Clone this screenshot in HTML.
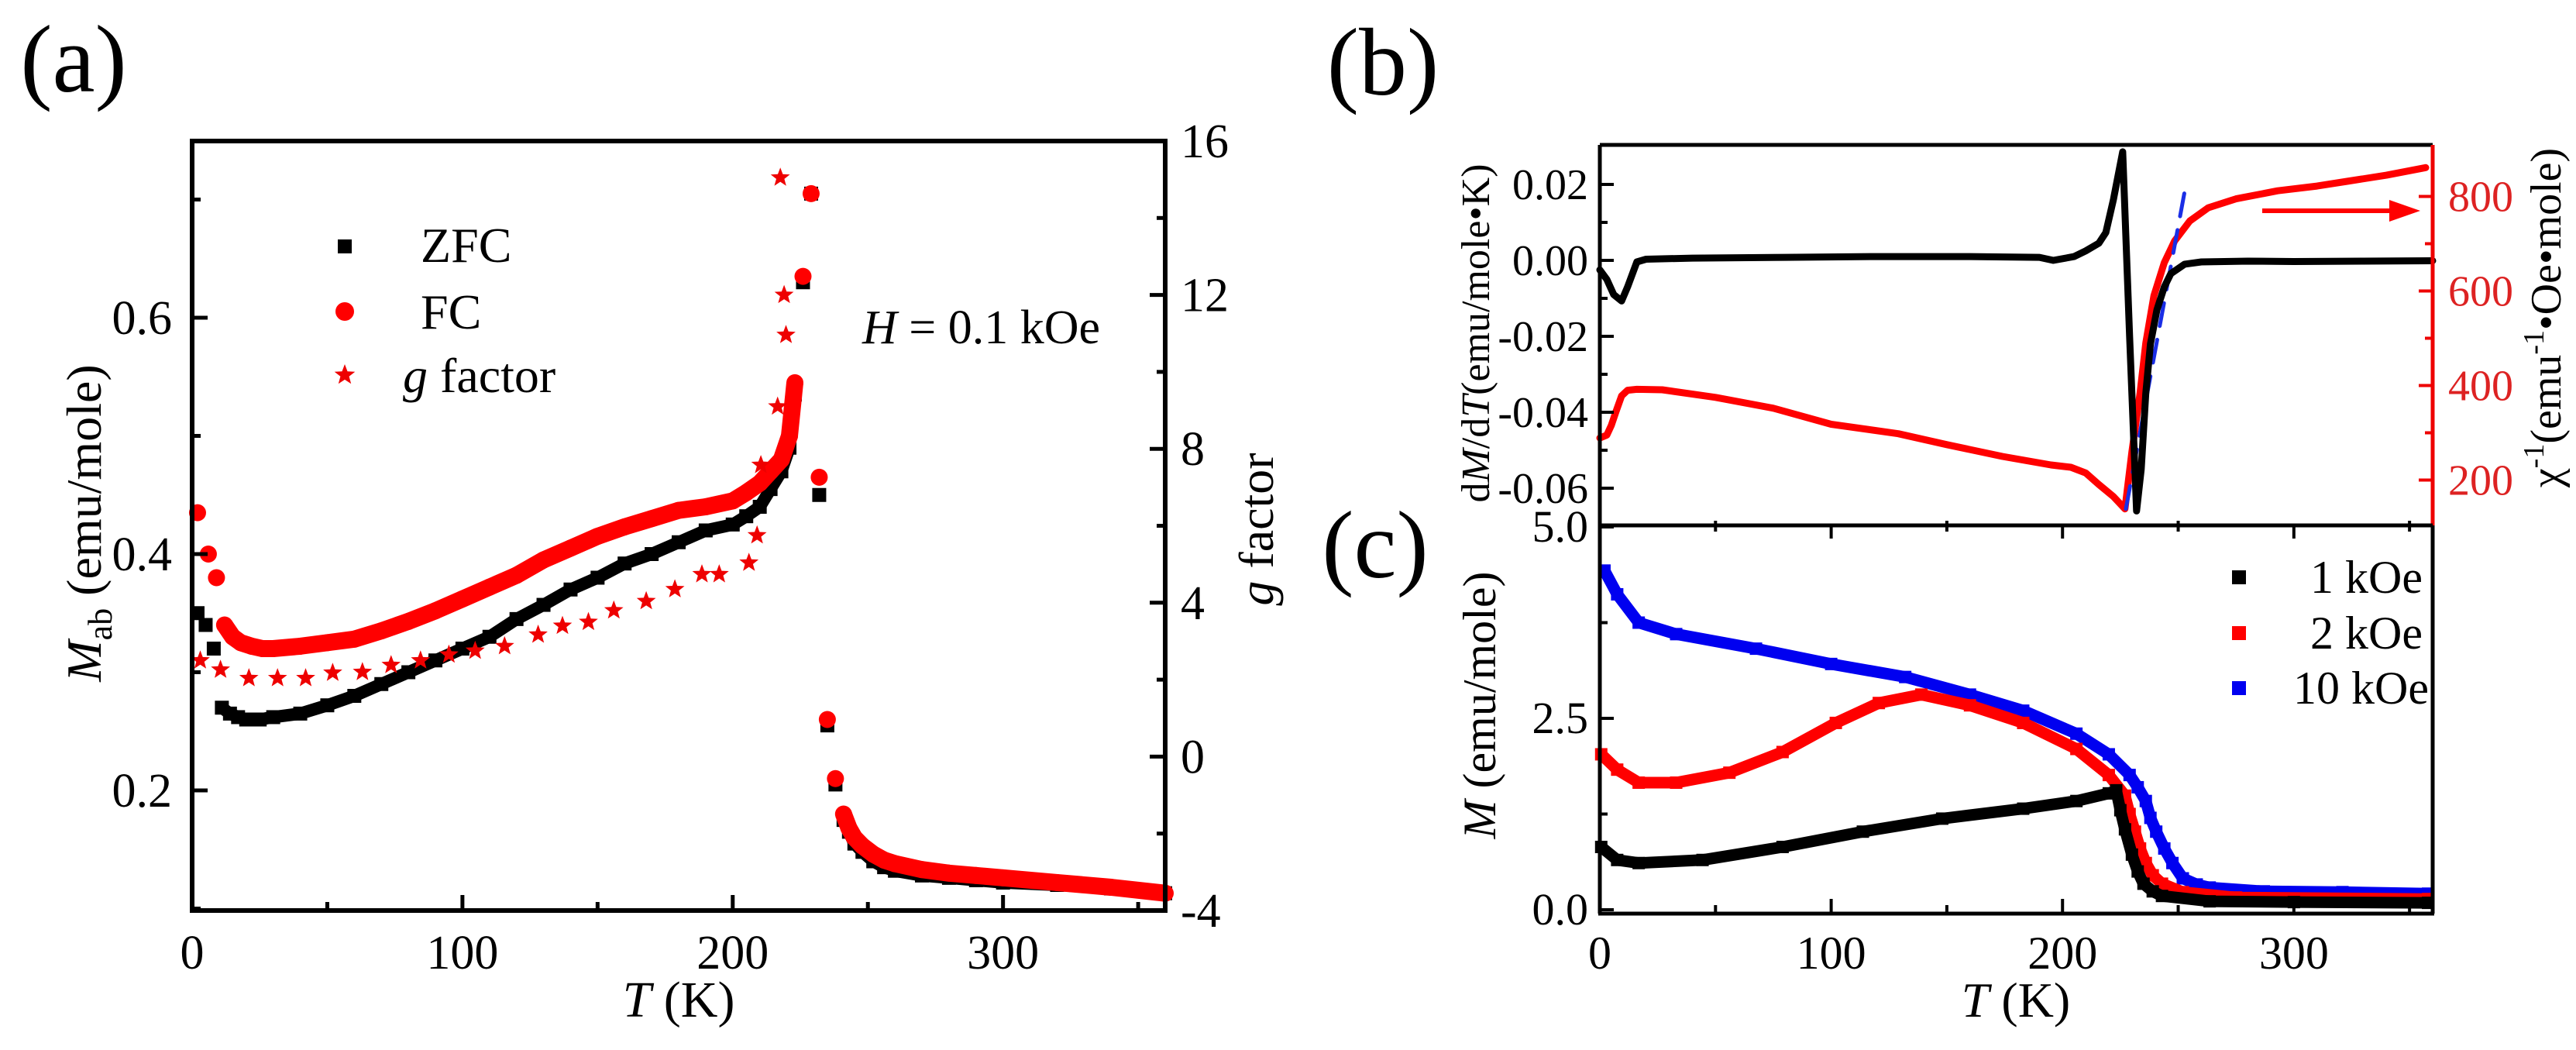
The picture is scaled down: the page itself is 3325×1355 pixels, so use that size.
<!DOCTYPE html>
<html><head><meta charset="utf-8">
<style>
html,body{margin:0;padding:0;background:#fff;}
svg{display:block;}
svg text{font-family:"Liberation Serif","DejaVu Serif",serif;}
</style></head>
<body>
<svg id="fig" xmlns="http://www.w3.org/2000/svg" width="3325" height="1355" viewBox="0 0 3325 1355" font-family="Liberation Serif, DejaVu Serif, serif">
<rect x="0" y="0" width="3325" height="1355" fill="#fff"/>
<g id="layer"></g>
</svg>
<script>
// ---------- Panel (a) data ----------
const zfcT = [2,5,8,11,14,17,20,25,30,40,50,60,70,80,90,100,110,120,130,140,150,160,170,180,190,200,205,210,214,218,221,223,226,229,232,235,238,241,243,245,248,252,256,260,270,280,290,300,320,340,360];
const zfcM = [0.35,0.34,0.32,0.27,0.265,0.262,0.26,0.26,0.262,0.265,0.272,0.28,0.29,0.30,0.31,0.32,0.33,0.345,0.357,0.37,0.38,0.392,0.40,0.41,0.42,0.425,0.432,0.44,0.455,0.47,0.49,0.535,0.63,0.705,0.45,0.255,0.205,0.175,0.165,0.155,0.148,0.14,0.135,0.132,0.128,0.126,0.124,0.122,0.12,0.117,0.113];
const fcT = [2,6,9,12,15,18,22,26,30,40,50,60,70,80,90,100,110,120,130,140,150,160,170,180,190,200,205,210,214,218,221,223,226,229,232,235,238,241,243,245,248,252,256,260,270,280,290,300,320,340,360];
const fcM = [0.435,0.40,0.38,0.34,0.33,0.325,0.322,0.32,0.32,0.322,0.325,0.328,0.335,0.343,0.352,0.362,0.372,0.382,0.395,0.405,0.415,0.423,0.43,0.437,0.44,0.445,0.452,0.46,0.47,0.48,0.50,0.545,0.635,0.705,0.465,0.26,0.21,0.18,0.168,0.16,0.153,0.146,0.141,0.138,0.133,0.13,0.128,0.126,0.122,0.118,0.113];
const gT = [3,10.5,21,31.6,42,52,63,73.6,84.5,95,104.7,115.6,128,137,146.6,156,168,178.6,188.6,195,206,209,210.4,216.6,219,219.7,217.6];
const gV = [2.5,2.26,2.04,2.04,2.04,2.18,2.2,2.38,2.5,2.65,2.75,2.87,3.17,3.4,3.5,3.8,4.04,4.35,4.74,4.74,5.04,5.75,7.58,9.1,12.0,10.96,15.05];
const aXTicks = [0,100,200,300];
const aYTicks = [0.2,0.4,0.6];
const aGTicks = [-4,0,4,8,12,16];
// ---------- Panel (b) data ----------
const dT = [0,3,6,9.4,12,16,20,40,80,120,160,190,196,205,210,215.7,218.7,222,226,229,232,234,236,238,240.8,244,246.8,252.8,260,280,300,330,360];
const dV = [-0.0025,-0.005,-0.009,-0.0107,-0.007,-0.0004,0.0003,0.0006,0.0008,0.001,0.001,0.0008,0.0,0.001,0.0025,0.0045,0.0073,0.016,0.0286,-0.02,-0.066,-0.055,-0.035,-0.022,-0.013,-0.007,-0.0035,-0.001,-0.0004,-0.0002,-0.0003,-0.0002,-0.0001];
const cT = [0,3,5,7,9.4,12,16,27,50,75,100,129,150,174,195,203.6,210,215.6,222,227,230,233.5,236,239.5,244,248.5,255,263,275,293,310,323,340,357];
const cV = [289,295,316,345,378,390,392,391,375,352,318,298,275,250,232,227,215,191,165,139,260,384,490,590,660,706,748,776,795,812,822,832,845,861];
const fitT = [227.4,253.6];
const fitV = [139,832];
const bLTicks = [0.02,0.00,-0.02,-0.04,-0.06];
const bLLabels = ["0.02","0.00","-0.02","-0.04","-0.06"];
const bRTicks = [200,400,600,800];
// ---------- Panel (c) data ----------
const kT = [0.6,7.5,16.8,44.4,79,113.7,148,183,206,220,223.2,225,227,230,232.5,235,239,243,263.6,300,358];
const kV = [0.82,0.65,0.61,0.65,0.82,1.02,1.19,1.32,1.42,1.52,1.56,1.3,1.05,0.72,0.5,0.34,0.24,0.18,0.11,0.1,0.09];
const rT = [0.6,7.5,16.8,33,56,79,102,120.6,139,160,183,206,220,227,229,231.3,233.5,236,239,243,252,275,358];
const rV = [2.03,1.83,1.66,1.66,1.79,2.06,2.44,2.7,2.81,2.67,2.44,2.1,1.76,1.49,1.25,1.02,0.8,0.61,0.45,0.34,0.23,0.16,0.14];
const bT = [2,7.5,16.8,33,67.5,100,132,160,183,206,220,229,232.5,236,238,240.5,244,247.5,252,258,263.6,287,321,358];
const bV = [4.43,4.12,3.75,3.6,3.41,3.21,3.04,2.81,2.6,2.3,2.03,1.76,1.6,1.42,1.2,1.02,0.8,0.61,0.41,0.33,0.29,0.24,0.23,0.21];
const cXTicks = [0,100,200,300];
const cYTicks = [0.0,2.5,5.0];
const cYLabels = ["0.0","2.5","5.0"];

// ---------- axis functions ----------
const aX = t => 248 + t*(1504-248)/360;
const aY = v => 410 - (v-0.6)*1525;
const aG = g => 1175 - (g+4)/20*993;
const bX = t => 2065 + t*(3140-2065)/360;
const bY = v => 336 - v*4900;
const bC = v => 253.5 - (v-800)*0.61;
const cY = v => 1174 - v*98.8;

const NS = "http://www.w3.org/2000/svg";
const FONT = '"Liberation Serif", "DejaVu Serif", serif';
const layer = document.getElementById('layer');
function mk(tag, attrs, parent){
  const e = document.createElementNS(NS, tag);
  for (const k in attrs) e.setAttribute(k, attrs[k]);
  if (tag === 'text') e.style.fontFamily = FONT;
  (parent||layer).appendChild(e);
  return e;
}
function txt(str, x, y, size, opts){
  opts = opts||{};
  const e = mk('text', {x:x, y:y, 'font-size':size, fill:opts.fill||'#000', 'text-anchor':opts.anchor||'middle'});
  if (opts.italic) e.setAttribute('font-style','italic');
  e.textContent = str;
  return e;
}
function starPath(cx, cy, R){
  const r = R*0.42; let d = '';
  for (let i=0;i<10;i++){
    const rr = i%2===0 ? R : r;
    const a = -Math.PI/2 + i*Math.PI/5;
    d += (i===0?'M':'L') + (cx+rr*Math.cos(a)).toFixed(1) + ' ' + (cy+rr*Math.sin(a)).toFixed(1);
  }
  return d+'Z';
}
function line(x1,y1,x2,y2,stroke,w){
  return mk('line',{x1:x1,y1:y1,x2:x2,y2:y2,stroke:stroke,'stroke-width':w});
}

// ================= Panel (a) =================
let e;
e = txt('(a)', 95, 118, 124);



function denseLine(T, V, fx, fy, color, w, cond){
  let pts = [];
  const segs = [];
  for (let i=0;i<T.length;i++){
    if (cond(T[i])) pts.push(fx(T[i]).toFixed(1)+','+fy(V[i]).toFixed(1));
    else { if (pts.length>1) segs.push(pts); pts=[]; }
  }
  if (pts.length>1) segs.push(pts);
  const g = mk('g',{});
  segs.forEach(s=>{
    mk('polyline',{points:s.join(' '), fill:'none', stroke:color, 'stroke-width':w, 'stroke-linejoin':'round'}, g);
  });
  return g;
}
e = denseLine(zfcT, zfcM, aX, aY, '#000', 16, t => (t>=11 && t<=223) || t>=241);


const zfcG = mk('g',{});


zfcT.forEach((t,i)=>{
  const r = mk('rect',{x:aX(t)-9, y:aY(zfcM[i])-9, width:18, height:18, fill:'#000'}, zfcG);
  
  
});
e = denseLine(fcT, fcM, aX, aY, '#f00', 22, t => (t>=12 && t<=223) || t>=241);


const fcG = mk('g',{});


fcT.forEach((t,i)=>{
  const c = mk('circle',{cx:aX(t), cy:aY(fcM[i]), r:11, fill:'#f00'}, fcG);
  
  
});
const gG = mk('g',{});


gT.forEach((t,i)=>{
  const s = mk('path',{d:starPath(aX(t), aG(gV[i]), 13), fill:'#e00'}, gG);
  
  
});

e = mk('rect',{x:248, y:182, width:1256, height:993, fill:'none', stroke:'#000', 'stroke-width':6});


aXTicks.forEach(t=>{
  line(aX(t),1175,aX(t),1155,'#000',5);
  e = txt(String(t), aX(t), 1250, 62);
  
  
});
[50,150,250,350].forEach(t=> line(aX(t),1175,aX(t),1164,'#000',5));
aYTicks.forEach(v=>{
  line(248,aY(v),268,aY(v),'#000',5);
  e = txt(v.toFixed(1), 222, aY(v)+21, 62, {anchor:'end'});
  
  
});
[0.1,0.3,0.5,0.7].forEach(v=> line(248,aY(v),259,aY(v),'#000',5));
aGTicks.forEach(g=>{
  line(1504,aG(g),1484,aG(g),'#000',5);
  e = txt(String(g), 1524, aG(g)+21, 62, {anchor:'start'});
  
  
});
[-2,2,6,10,14].forEach(g=> line(1504,aG(g),1493,aG(g),'#000',5));
e = mk('text',{x:876, y:1312, 'font-size':66, 'text-anchor':'middle'});
e.innerHTML = '<tspan font-style="italic">T</tspan> (K)';


e = mk('text',{x:0, y:0, 'font-size':64, 'text-anchor':'middle', transform:'translate(130 675) rotate(-90)'});
e.innerHTML = '<tspan font-style="italic">M</tspan><tspan font-size="44" dy="14">ab</tspan><tspan dy="-14"> (emu/mole)</tspan>';


e = mk('text',{x:0, y:0, 'font-size':64, 'text-anchor':'middle', transform:'translate(1643 683) rotate(-90)'});
e.innerHTML = '<tspan font-style="italic">g</tspan> factor';


const legA = mk('g',{});


mk('rect',{x:436, y:309, width:18, height:18, fill:'#000'}, legA);
mk('circle',{cx:445, cy:402, r:12, fill:'#f00'}, legA);
mk('path',{d:starPath(445,484,14), fill:'#e00'}, legA);
e = mk('text',{x:543, y:338, 'font-size':64}, legA); e.textContent='ZFC';


e = mk('text',{x:543, y:424, 'font-size':64}, legA); e.textContent='FC';


e = mk('text',{x:520, y:506, 'font-size':64}, legA); e.innerHTML='<tspan font-style="italic">g</tspan> factor';


e = mk('text',{x:1113, y:443, 'font-size':62});
e.innerHTML = '<tspan font-style="italic">H</tspan> = 0.1 kOe';



// ================= Panel (b) =================
e = txt('(b)', 1785, 122, 124);


e = txt('(c)', 1775, 745, 124);



function curve(T,V,fx,fy,color,w,dash){
  const p = T.map((t,i)=> fx(t).toFixed(1)+','+fy(V[i]).toFixed(1)).join(' ');
  const a = {points:p, fill:'none', stroke:color, 'stroke-width':w, 'stroke-linejoin':'round', 'stroke-linecap':'round'};
  if (dash) a['stroke-dasharray'] = dash;
  return mk('polyline', a);
}
e = curve(cT, cV, bX, bC, '#f00', 9);


e = curve(fitT, fitV, bX, bC, '#1a2ee6', 5, '30 18');


e = curve(dT, dV, bX, bY, '#000', 9);


e = mk('g',{});


mk('line',{x1:2920,y1:272,x2:3090,y2:272,stroke:'#f00','stroke-width':6}, e);
mk('path',{d:'M3084 258 L3124 272 L3084 286 Z', fill:'#f00'}, e);

line(2065,187,3140,187,'#000',5);
line(2065,187,2065,678,'#000',5);
line(3140,187,3140,678,'#e00',5);
bLTicks.forEach((v,i)=>{
  line(2065,bY(v),2083,bY(v),'#000',4);
  e = txt(bLLabels[i], 2050, bY(v)+19, 56, {anchor:'end'});
  
  
});
[0.01,-0.01,-0.03,-0.05].forEach(v=> line(2065,bY(v),2075,bY(v),'#000',4));
bRTicks.forEach(v=>{
  line(3140,bC(v),3122,bC(v),'#e00',4);
  e = txt(String(v), 3160, bC(v)+19, 56, {anchor:'start', fill:'#d22'});
  
  
});
[300,500,700].forEach(v=> line(3140,bC(v),3130,bC(v),'#e00',4));
e = mk('text',{x:0, y:0, 'font-size':52, 'text-anchor':'middle', transform:'translate(1922 430) rotate(-90)'});
e.innerHTML = 'd<tspan font-style="italic">M</tspan>/d<tspan font-style="italic">T</tspan>(emu/mole•K)';


e = mk('text',{x:0, y:0, 'font-size':56, 'text-anchor':'middle', transform:'translate(3305 410) rotate(-90)'});
e.innerHTML = 'χ<tspan font-size="38" dy="-22">-1</tspan><tspan dy="22">(emu</tspan><tspan font-size="38" dy="-22">-1</tspan><tspan dy="22">•Oe•mole)</tspan>';



// ================= Panel (c) =================
function squares(T,V,color,name){
  const g = mk('g',{});
  
  
  const p = T.map((t,i)=> bX(t).toFixed(1)+','+cY(V[i]).toFixed(1)).join(' ');
  mk('polyline',{points:p, fill:'none', stroke:color, 'stroke-width':15, 'stroke-linejoin':'round'}, g);
  T.forEach((t,i)=>{
    const r = mk('rect',{x:bX(t)-8, y:cY(V[i])-8, width:16, height:16, fill:color}, g);
    
    
  });
}
squares(bT, bV, '#0000f0', 'series-10koe');
squares(rT, rV, '#f00', 'series-2koe');
squares(kT, kV, '#000', 'series-1koe');

line(2065,678,3140,678,'#000',5);
line(2065,678,2065,1179,'#000',5);
line(3140,678,3140,1179,'#000',5);
line(2063,1179,3142,1179,'#000',5);
cXTicks.forEach(t=>{
  line(bX(t),1179,bX(t),1160,'#000',4);
  line(bX(t),678,bX(t),695,'#000',4);
  e = txt(String(t), bX(t), 1250, 60);
  
  
});
[50,150,250,350].forEach(t=>{ line(bX(t),1179,bX(t),1168,'#000',4); line(bX(t),672,bX(t),686,'#000',4); });
cYTicks.forEach((v,i)=>{
  line(2065,cY(v),2083,cY(v),'#000',4);
  e = txt(cYLabels[i], 2050, cY(v)+19, 58, {anchor:'end'});
  
  
});
[1.25,3.75].forEach(v=> line(2065,cY(v),2075,cY(v),'#000',4));
e = mk('text',{x:2602, y:1312, 'font-size':64, 'text-anchor':'middle'});
e.innerHTML = '<tspan font-style="italic">T</tspan> (K)';


e = mk('text',{x:0, y:0, 'font-size':60, 'text-anchor':'middle', transform:'translate(1930 910) rotate(-90)'});
e.innerHTML = '<tspan font-style="italic">M</tspan> (emu/mole)';


const legC = mk('g',{});


[['#000','1 kOe',745,2982],['#f00','2 kOe',817,2982],['#0000f0','10 kOe',888,2960]].forEach(r=>{
  mk('rect',{x:2881, y:r[2]-9, width:18, height:18, fill:r[0]}, legC);
  const t = mk('text',{x:r[3], y:r[2]+20, 'font-size':60}, legC);
  t.textContent = r[1];
  
  
});
</script>
</body></html>
